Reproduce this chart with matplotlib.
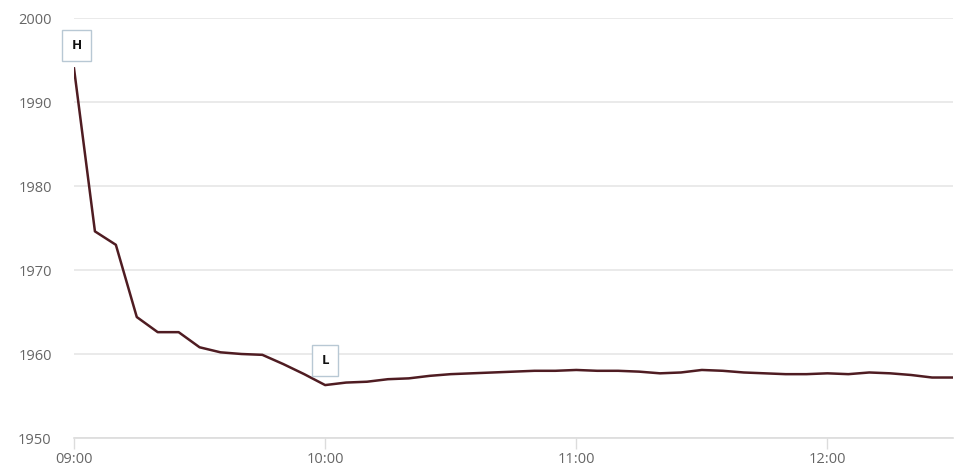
import matplotlib
matplotlib.use("Agg")
import matplotlib.pyplot as plt

# minutes after 09:00, 5-minute steps
minutes = list(range(0, 215, 5))
prices = [1994.0, 1974.6, 1973.0, 1964.4, 1962.6, 1962.6, 1960.8, 1960.2, 1960.0, 1959.9,
          1958.8, 1957.6, 1956.3, 1956.6, 1956.7, 1957.0, 1957.1, 1957.4, 1957.6, 1957.7,
          1957.8, 1957.9, 1958.0, 1958.0, 1958.1, 1958.0, 1958.0, 1957.9, 1957.7, 1957.8,
          1958.1, 1958.0, 1957.8, 1957.7, 1957.6, 1957.6, 1957.7, 1957.6, 1957.8, 1957.7,
          1957.5, 1957.2, 1957.2]
xtick_pos = [0, 60, 120, 180]
xtick_labels = ["09:00", "10:00", "11:00", "12:00"]
yticks = [1950, 1960, 1970, 1980, 1990, 2000]

plt.rcParams['font.family'] = ['Open Sans', 'DejaVu Sans']

fig = plt.figure(figsize=(9.58, 4.74), dpi=100)
ax = fig.add_axes([74/958, 36/474, (953-74)/958, (438-18)/474])

ax.plot(minutes, prices, color="#4f1c22", lw=1.8, solid_joinstyle="round")

ax.set_xlim(0, 210)
ax.set_ylim(1950, 2000)
ax.set_yticks(yticks)
ax.set_xticks(xtick_pos)
ax.set_xticklabels(xtick_labels)
for s in ["top", "right", "left"]:
    ax.spines[s].set_visible(False)
ax.spines["bottom"].set_color("#dcdcdc")
ax.spines["bottom"].set_linewidth(1.2)
ax.yaxis.grid(True, color="#e6e6e6", lw=1.2)
ax.set_axisbelow(True)
ax.tick_params(axis="y", length=0, pad=16, labelsize=10.5, labelcolor="#666666")
ax.tick_params(axis="x", length=8, width=1, color="#dcdcdc", pad=2,
               labelsize=10.5, labelcolor="#666666")

# High / Low markers
i_hi = prices.index(max(prices))
i_lo = prices.index(min(prices))
box = dict(boxstyle="square,pad=0.7", fc="white", ec="#b8c8d4", lw=1)
ax.text(minutes[i_hi] + 0.6, prices[i_hi] + 2.7, "H", ha="center", va="center",
        fontsize=9.5, fontweight="bold", color="#111111", bbox=box, zorder=5)
ax.text(minutes[i_lo], prices[i_lo] + 2.9, "L", ha="center", va="center",
        fontsize=9.5, fontweight="bold", color="#111111", bbox=box, zorder=5)

fig.savefig("out.png", dpi=100)
